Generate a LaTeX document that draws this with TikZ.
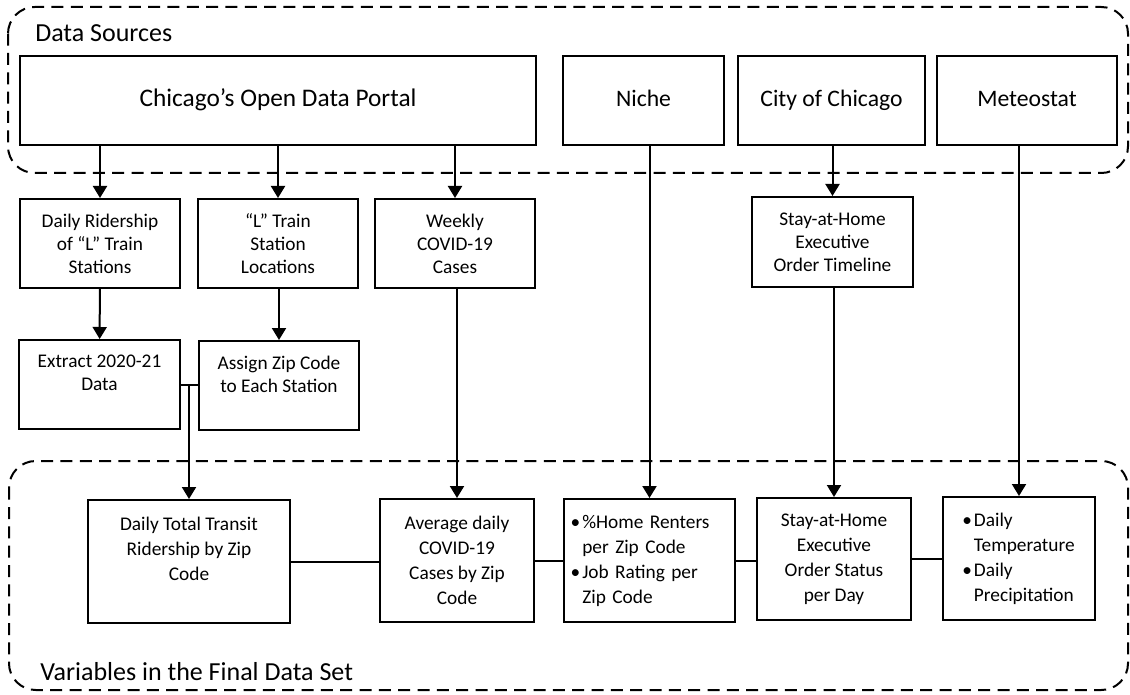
\documentclass[tikz,border=0pt]{standalone}
\usepackage{fontspec}
\setmainfont{Carlito}
\usetikzlibrary{arrows.meta}
\newenvironment{bullets}{\begin{tabular}{@{}l@{\hspace{1.5pt}}l@{}}}{\end{tabular}}
\tikzset{
  wh/.style 2 args={minimum width=#1*0.75pt, minimum height=#2*0.75pt},
  bx/.style={draw, line width=1.5pt, align=center, inner sep=2pt,
    font=\fontsize{14.5}{17.25}\selectfont},
  bxlow/.style={bx, font=\fontsize{14.5}{18.75}\selectfont},
  src/.style={draw, line width=1.5pt, align=center, inner sep=2pt,
    text height=12.5pt, text depth=3.5pt,
    font=\fontsize{17.75}{21}\selectfont},
  lst/.style={bxlow, align=left},
  ttl/.style={font=\fontsize{19.5}{23}\selectfont, inner sep=0pt, anchor=base west},
  arr/.style={line width=1.5pt, -{Triangle[width=10.5pt,length=9pt]}},
  lnk/.style={line width=1.5pt},
  dashbox/.style={line width=1.5pt, dash pattern=on 9pt off 5.5pt, rounded corners=20pt}
}
\begin{document}
\begin{tikzpicture}[x=0.75pt, y=-0.75pt]
\useasboundingbox (0,0) rectangle (1130,695);
% containers
\draw[dashbox] (8,7) rectangle (1128,173);
\draw[dashbox] (9,461) rectangle (1128,690);
\node[ttl] (dstitle) at (35,42) {Data Sources};
\node[ttl] (vartitle) at (40,680) {Variables in the Final Data Set};
% sources
\node[src, wh={516}{89}, font=\fontsize{19}{23}\selectfont] (chi) at (278,100.5) {Chicago’s Open Data Portal};
\node[src, wh={161}{89}] (niche) at (643.5,100.5) {Niche};
\node[src, wh={187}{89}] (city) at (831.5,100.5) {City of Chicago};
\node[src, wh={180}{89}] (meteo) at (1027,100.5) {Meteostat};
% row 2
\node[bx, wh={160}{89}] (ride) at (100,243.5) {Daily Ridership\\of “L” Train\\Stations};
\node[bx, wh={160}{89}] (loc) at (278,243.5) {“L” Train\\Station\\Locations};
\node[bx, wh={160}{89}] (weekly) at (455,243.5) {Weekly\\COVID-19\\Cases};
\node[bx, wh={161}{90}] (timeline) at (832.5,242) {Stay-at-Home\\Executive\\Order Timeline};
% row 3
\node[bx, wh={161}{89}] (extract) at (99.5,384.5) {Extract 2020-21\\Data\\\mbox{}};
\node[bx, wh={160}{89}] (assign) at (279,385.5) {Assign Zip Code\\to Each Station\\\mbox{}};
% final variables
\node[bxlow, wh={202}{123}] (total) at (189,561.5) {Daily Total Transit\\Ridership by Zip\\Code\\\mbox{}};
\node[bxlow, wh={154}{123}] (avg) at (457,560.5) {Average daily\\COVID-19\\Cases by Zip\\Code};
\node[lst, wh={171}{123}, inner xsep=5pt, text width=118.25pt] (renters) at (649.5,560.5)
  {\begin{bullets}\textbullet & \%Home Renters\\ & per Zip Code\\ \textbullet & Job Rating per\\ & Zip Code\end{bullets}};
\node[bxlow, wh={154}{122}] (status) at (834,559) {Stay-at-Home\\Executive\\Order Status\\per Day};
\node[lst, wh={152}{123}, inner xsep=14.5pt, text width=85pt] (temp) at (1019,558.5)
  {\begin{bullets}\textbullet & Daily\\ & Temperature\\ \textbullet & Daily\\ & Precipitation\end{bullets}};
% arrows from sources
\draw[arr] (chi.south -| ride.north) -- (ride.north);
\draw[arr] (chi.south -| loc.north) -- (loc.north);
\draw[arr] (chi.south -| weekly.north) -- (weekly.north);
\draw[arr] (city.south -| timeline.north) -- (timeline.north);
\draw[arr] (niche.south -| renters.north) -- (renters.north);
\draw[arr] (meteo.south -| temp.north) -- (temp.north);
% processing
\draw[arr] (ride) -- (extract);
\draw[arr] (loc.south -| assign.north) -- (assign.north);
\draw[lnk] (extract.east) -- (assign.west |- extract.east);
\draw[arr] (extract.east -| total.north) -- (total.north);
\draw[arr] (weekly.south -| avg.north) -- (avg.north);
\draw[arr] (timeline.south -| status.north) -- (status.north);
% links between final variables
\draw[lnk] (total.east) -- (avg.west |- total.east);
\draw[lnk] (avg.east) -- (renters.west |- avg.east);
\draw[lnk] (renters.east) -- (status.west |- renters.east);
\draw[lnk] (status.east) -- (temp.west |- status.east);
\end{tikzpicture}
\end{document}
